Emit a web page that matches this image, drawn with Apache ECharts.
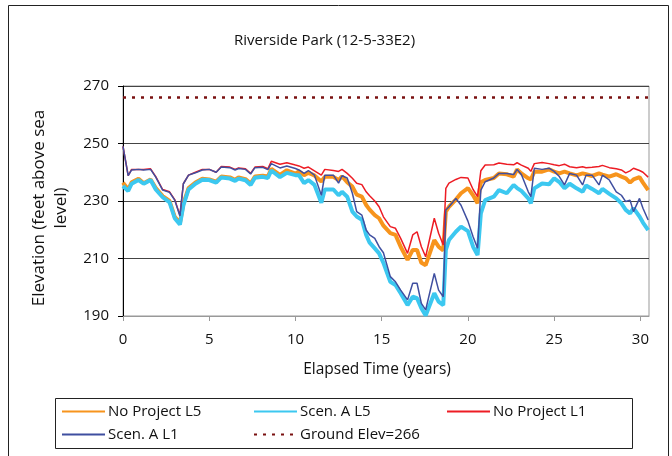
<!DOCTYPE html>
<html><head><meta charset="utf-8">
<script src="https://cdn.jsdelivr.net/npm/echarts@6/dist/echarts.min.js"></script>
<style>html,body{margin:0;padding:0;background:#fff}#c{width:672px;height:456px}</style>
</head><body><div id="c"></div>
<script>
var titleText = 'Riverside Park (12-5-33E2)';
var xTitle = 'Elapsed Time (years)';
var yTitle = 'Elevation (feet above sea\nlevel)';
var seriesNames = ['No Project L5', 'Scen. A L5', 'No Project L1', 'Scen. A L1', 'Ground Elev=266'];
var groundElev = 266;
var times = [0,0.3,0.5,0.9,1.2,1.6,1.9,2.3,2.7,3.0,3.3,3.5,3.8,4.2,4.6,5.0,5.4,5.7,6.2,6.5,6.7,7.1,7.4,7.65,8.1,8.4,8.6,9.1,9.5,10.0,10.2,10.5,10.75,11.1,11.5,11.7,12.2,12.5,12.7,13.0,13.3,13.55,13.85,14.1,14.3,14.6,14.85,15.1,15.5,15.8,16.1,16.5,16.8,17.05,17.3,17.55,18.05,18.3,18.57,18.72,18.9,19.3,19.6,20.0,20.3,20.56,20.75,21.0,21.5,21.8,22.25,22.65,22.85,23.1,23.5,23.65,23.85,24.3,24.7,25.0,25.3,25.6,25.9,26.3,26.65,26.85,27.2,27.6,27.8,28.2,28.6,28.9,29.15,29.4,29.6,29.95,30.15,30.45];
var noProjectL5 = [236.4,234,236.5,237.7,236.2,237.5,234.5,231.7,230,224.5,
 222.3,229,234.5,236.4,237.7,237.5,236.7,238.5,238.2,237.4,
 238.2,237.6,236.1,238.5,238.8,238.5,241.2,239.1,240.7,239.5,
 240.3,239,239.8,238.9,236.8,238.4,238.4,237.3,238.6,236.5,
 235,232.2,231.5,228.6,227,225.1,224,221.4,218.8,218.2,
 214.1,209.5,213,213,208.5,207.7,216.4,214.1,212.8,226.3,
 228,230.5,232.7,234.5,232,229.2,236.5,237.3,238,239.6,
 239.3,238.5,241,239.6,237.9,237.5,240.2,240.2,241,240.2,
 239.6,240.2,239.6,238.9,239.6,239.3,238.7,239.6,239.2,238.5,
 239.3,238.5,237.9,236.4,237.5,238.3,236.4,233.8];
var scenAL5 = [235.2,233.5,236,237.3,236,237.3,234,231.3,229.5,224,
 221.8,228.5,234,236,237.4,237.3,236.4,238.2,237.8,237,
 237.8,237.2,235.6,238.1,238.4,238,240.6,238.3,239.8,239,
 239,236.2,237.3,235.6,229.4,234,234,232,233.2,231.5,
 226.3,224.6,223.5,218.2,215.5,213.5,211.8,208.5,201.9,200.8,
 197.9,193.8,196.7,196.2,192.7,190.2,197.9,195,193.8,213,
 216.4,219.3,221.1,219.5,214.1,211.2,225.7,230.3,231.5,233.8,
 232.7,235.6,234.5,233.5,230.9,229.2,234.4,236.1,235.8,237.9,
 236.6,234.4,236,234.4,233.2,235.4,234.2,232.7,234.2,232.5,
 230.9,229.2,226.9,225.7,227.5,224.6,222.5,219.9];
var noProjectL1 = [249,238.8,241,241,241,241.2,238.5,234,233.2,230.5,
 225,236,239,240,241,241,240,242,241.8,241,
 241.5,241.2,239.6,241.8,242,241.2,243.8,242.8,243.3,242.5,
 242.2,241.4,241.8,240.5,239,241,240.6,240.3,241,239.6,
 237.9,236.2,235.7,233.2,231.8,230,228,224.5,221.1,220.5,
 217,211.8,218.2,219.3,214.1,210.6,224,218.8,214.7,234.4,
 236.2,237.5,238.2,238,234,231.5,240.5,242.5,242.6,243.2,
 242.8,242.6,243.3,242.5,241.4,240.3,243,243.4,243,242.6,
 242.3,242.8,241.9,241.6,241.9,241.6,241.7,242,242.4,241.6,
 241.2,240.8,239.8,240.5,241.4,240.6,240,238.3];
var scenAL1 = [249,238.8,240.8,241,240.8,241,238.3,233.8,233,230.3,
 224.8,236,239,239.8,240.8,241,240,241.8,241.6,240.8,
 241.3,241,239.4,241.6,241.7,240.9,243,241.5,242.2,241.3,
 240.8,239.6,240.6,239,232,239,239,236.2,238.8,238,
 232.7,226.3,225.1,219.9,218.2,217,214.1,212,203.7,201.9,
 199,195.6,201.4,201.4,194.4,192.1,204.8,199,196.7,226.9,
 228,230.9,228.5,223,217.6,213.6,233.8,236.7,238,239.6,
 239.6,239.2,241,239.2,233.2,231.5,241.4,241,241.4,240.3,
 238.5,235.6,239.6,239,235.6,239,239,235.6,239,237.3,
 233.2,232,229.8,230.3,226.3,230.9,227.5,223.4];
var xMin = 0, xMax = 30.5, xStep = 5;
var yMin = 190, yMax = 270, yStep = 20;

function pairs(vals){ return times.map(function(t,i){ return [t, vals[i]]; }); }
var FONT = 'Open Sans';
var chart = echarts.init(document.getElementById('c'), null, {renderer:'canvas'});
function lg(name, left, top){
  return {show:true, data:[name], left:left, top:top, orient:'horizontal', padding:0,
    itemWidth:43, itemHeight:12, itemGap:0, selectedMode:false,
    itemStyle:{opacity:0},
    textStyle:{fontFamily:FONT, fontSize:15, color:'#111', padding:[0,0,0,-2]}};
}
chart.setOption({
  animation:false,
  backgroundColor:'#fff',
  title:{text:titleText, left:229, top:28, textStyle:{fontFamily:FONT, fontSize:15, fontWeight:'normal', color:'#111'}},
  grid:{left:123, right:23, top:86, bottom:140, show:true, borderColor:'#999', borderWidth:1, containLabel:false},
  legend:[lg(seriesNames[0],61,404), lg(seriesNames[1],253,404), lg(seriesNames[2],446,404),
          lg(seriesNames[3],61,427), lg(seriesNames[4],253,427)],
  xAxis:{type:'value', min:xMin, max:xMax, interval:xStep,
    name:xTitle, nameLocation:'middle', nameGap:46,
    nameTextStyle:{fontFamily:FONT, fontSize:15.5, color:'#111', padding:[0,18,0,0]},
    axisLine:{show:true, lineStyle:{color:'#999', width:1}},
    axisTick:{show:true, length:5, lineStyle:{color:'#999'}},
    axisLabel:{fontFamily:FONT, fontSize:15, color:'#111', margin:16, showMaxLabel:false},
    splitLine:{show:false}},
  yAxis:{type:'value', min:yMin, max:yMax, interval:yStep,
    name:yTitle, nameLocation:'middle', nameGap:39, nameRotate:90,
    nameTextStyle:{fontFamily:FONT, fontSize:17, color:'#111', lineHeight:22, align:'center', padding:[0,14,0,0]},
    axisLine:{show:true, lineStyle:{color:'#000', width:1}},
    axisTick:{show:true, length:5, lineStyle:{color:'#000'}},
    axisLabel:{fontFamily:FONT, fontSize:15, color:'#111', margin:14},
    splitLine:{show:true, lineStyle:{color:'#444', width:1}}},
  graphic:[
    {type:'rect', shape:{x:8.5, y:5.5, width:660, height:470}, style:{fill:null, stroke:'#222', lineWidth:1}, silent:true},
    {type:'rect', shape:{x:55.5, y:398.5, width:577, height:50}, style:{fill:null, stroke:'#222', lineWidth:1}, silent:true}
  ],
  series:[
    {name:seriesNames[0], type:'line', data:pairs(noProjectL5), symbol:'none', lineStyle:{color:'#F7941D', width:4}, itemStyle:{color:'#F7941D'}},
    {name:seriesNames[1], type:'line', data:pairs(scenAL5), symbol:'none', lineStyle:{color:'#3CC8F0', width:4}, itemStyle:{color:'#3CC8F0'}},
    {name:seriesNames[2], type:'line', data:pairs(noProjectL1), symbol:'none', lineStyle:{color:'#ED1C24', width:1.5}, itemStyle:{color:'#ED1C24'}},
    {name:seriesNames[3], type:'line', data:pairs(scenAL1), symbol:'none', lineStyle:{color:'#3F4FA0', width:1.5}, itemStyle:{color:'#3F4FA0'}},
    {name:seriesNames[4], type:'line', data:[[xMin, groundElev],[xMax, groundElev]], symbol:'none', lineStyle:{color:'#7A1010', width:2.5, type:[3,6]}, itemStyle:{color:'#7A1010'}}
  ]
});
</script></body></html>
